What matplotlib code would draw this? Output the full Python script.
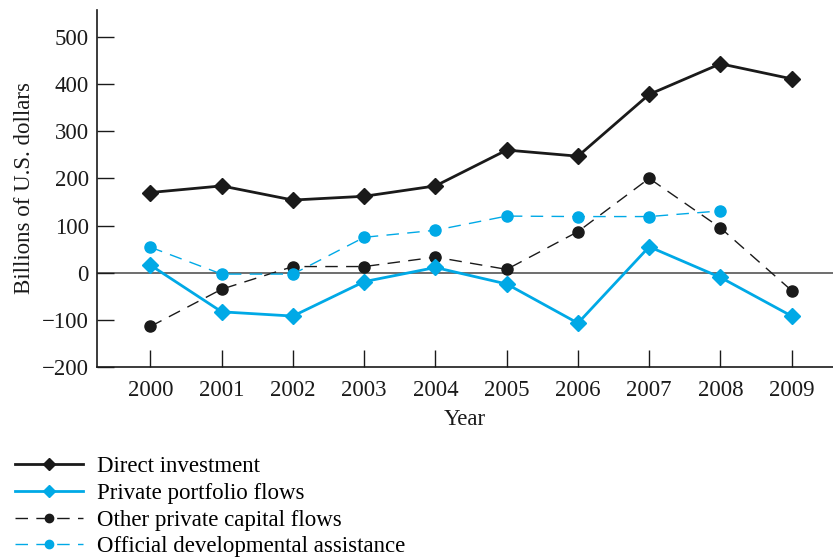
import matplotlib
matplotlib.use("Agg")
import matplotlib.pyplot as plt

years = [2000, 2001, 2002, 2003, 2004, 2005, 2006, 2007, 2008, 2009]
direct_investment = [170, 184, 154, 162, 184, 260, 247, 378, 443, 411]
private_portfolio = [16, -83, -92, -19, 11, -24, -107, 55, -10, -92]
other_private = [-114, -35, 13, 13, 33, 7, 87, 200, 95, -38]
oda_years = [2000, 2001, 2002, 2003, 2004, 2005, 2006, 2007, 2008]
official_assistance = [54, -3, -3, 75, 90, 120, 119, 119, 131]
yticks = [-200, -100, 0, 100, 200, 300, 400, 500]

plt.rcParams['font.family'] = ['Liberation Serif', 'DejaVu Serif']
BLACK = '#1a1a1a'
CYAN = '#00a9e6'
FS = 16.5

fig = plt.figure(figsize=(8.33, 5.57), dpi=100)
ax = fig.add_axes([97/833, 1-367/557, 1-97/833, 357/557])

ax.axhline(0, color='#555555', lw=1.2, zorder=1)

ax.plot(years, direct_investment, color=BLACK, lw=2, marker='D', ms=8,
        label='Direct investment', zorder=4)
ax.plot(years, private_portfolio, color=CYAN, lw=2, marker='D', ms=8,
        label='Private portfolio flows', zorder=4)
ax.plot(years, other_private, color=BLACK, lw=1, ls=(0, (9, 6)), marker='o', ms=8,
        label='Other private capital flows', zorder=3)
ax.plot(oda_years, official_assistance, color=CYAN, lw=1, ls=(0, (9, 6)), marker='o', ms=8,
        label='Official developmental assistance', zorder=3)

ax.set_xlim(1999.25, 2009.58)
ax.set_ylim(-200, 557)
ax.set_xticks(years)
ax.set_xticklabels([str(y) for y in years])
ax.set_yticks(yticks)
ax.set_yticklabels([str(t).replace('-', '\u2212') for t in yticks])
ax.tick_params(axis='both', direction='in', length=12, width=1, labelsize=FS, colors=BLACK)
ax.tick_params(axis='x', pad=9)
ax.tick_params(axis='y', pad=6)
for s in ['top', 'right']:
    ax.spines[s].set_visible(False)
for s in ['left', 'bottom']:
    ax.spines[s].set_color(BLACK)
    ax.spines[s].set_linewidth(1.2)

ax.set_xlabel('Year', fontsize=FS, color=BLACK, labelpad=6)
ax.set_ylabel('Billions of U.S. dollars', fontsize=FS, color=BLACK, labelpad=5)

handles, labels = ax.get_legend_handles_labels()
fig.legend(handles, labels, loc='upper left', bbox_to_anchor=(15/833, 1-456/557),
           frameon=False, fontsize=FS, handlelength=2.97, handletextpad=0.6,
           labelspacing=0.25, borderaxespad=0, borderpad=0, markerscale=0.75)

fig.savefig('out.png', dpi=100)
